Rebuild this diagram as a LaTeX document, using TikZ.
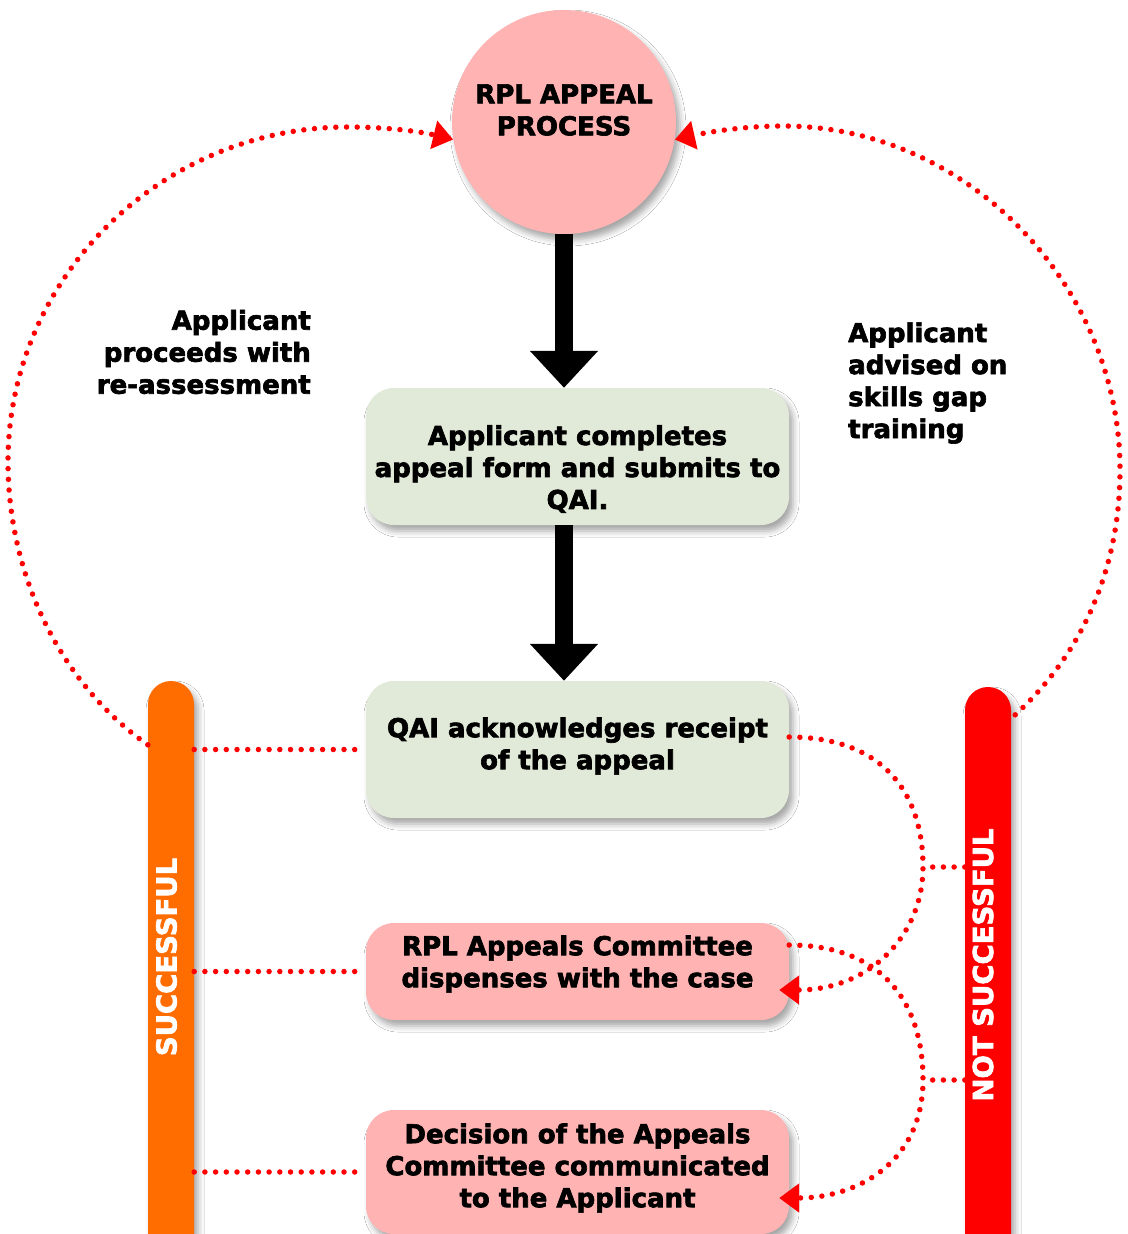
\documentclass[tikz,border=0pt]{standalone}
\usepackage{fontspec}
\setmainfont{DejaVu Sans}[BoldFeatures={FakeBold=2.5}]
\usetikzlibrary{arrows.meta,shadows.blur,calc}
\definecolor{pinkf}{HTML}{FFB3B3}
\definecolor{greenf}{HTML}{E1EAD8}
\definecolor{orangef}{HTML}{FF6C00}
\definecolor{redf}{HTML}{FF0000}
\tikzset{
  shd/.style={blur shadow={shadow xshift=4pt, shadow yshift=-6pt, shadow blur radius=6pt, shadow opacity=35}},
  circsty/.style={shd, circle, draw=none, fill=pinkf, minimum size=224pt, inner sep=0pt},
  boxg/.style={shd, draw=none, fill=greenf, rounded corners=28pt, minimum width=423pt, minimum height=137pt, inner sep=0pt},
  boxp/.style={shd, draw=none, fill=pinkf, rounded corners=28pt, minimum width=423pt, inner sep=0pt},
  barsty/.style={shd, draw=none, rounded corners=23pt, minimum width=46pt, minimum height=600pt, inner sep=0pt},
  txt/.style={font=\fontsize{26}{32}\selectfont\bfseries, align=center, inner sep=0pt},
  bartxt/.style={font=\fontsize{27.5}{32}\selectfont\bfseries, text=white, rotate=90, inner sep=0pt},
  dots/.style={draw=redf, line width=5.5pt, dash pattern=on 0pt off 10.7pt, line cap=round},
  dotarrow/.style={dots, -{Triangle[length=20pt,width=28pt]}},
  bigarrow/.style={draw=black, line width=18pt, -{Triangle[length=37pt,width=66pt]}},
}
\begin{document}
\begin{tikzpicture}[x=1pt,y=-1pt]
\useasboundingbox (0,0) rectangle (1127,1234);
\fill[white] (0,0) rectangle (1127,1234);

% main nodes
\node[circsty] (circ) at (564,122) {};
\node[txt] (ctext) at (564,110) {RPL APPEAL\\PROCESS};
\node[boxg] (box1) at (577.5,456.5) {};
\node[txt] (t1) at (577.5,469) {Applicant completes\\appeal form and submits to\\QAI.};
\node[boxg] (box2) at (577.5,749.5) {};
\node[txt] (t2) at (577.5,746) {QAI acknowledges receipt\\of the appeal};
\node[boxp, minimum height=97pt] (box3) at (577.5,971.5) {};
\node[txt] (t3) at (577.5,964) {RPL Appeals Committee\\dispenses with the case};
\node[boxp, minimum height=124pt] (box4) at (577.5,1172) {};
\node[txt] (t4) at (577.5,1168) {Decision of the Appeals\\Committee communicated\\to the Applicant};

% side bars
\node[barsty, fill=orangef] (sbar) at (171,981) {};
\node[bartxt] (stext) at (166.5,957) {SUCCESSFUL};
\node[barsty, fill=redf] (nbar) at (988,987) {};
\node[bartxt] (ntext) at (983,965) {NOT SUCCESSFUL};

% side labels
\node[txt, align=right, anchor=east] (lt) at (311,352) {Applicant\\proceeds with\\re-assessment};
\node[txt, align=left, anchor=west] (rt) at (848,383) {Applicant\\advised on\\skills gap\\training};

% black arrows
\draw[bigarrow] (circ.south) -- (circ.south |- box1.north);
\draw[bigarrow] (box1.south -| circ.south) -- (box2.north -| circ.south);

% left dotted connectors
\draw[dots, shorten >=9pt] (sbar.east |- box2.west) -- (box2.west);
\draw[dots, shorten >=9pt] (sbar.east |- box3.west) -- (box3.west);
\draw[dots, shorten >=9pt] (sbar.east |- box4.west) -- (box4.west);

% big loop arcs
\coordinate (la) at ($(sbar.north west)+(0,64)$);
\draw[dotarrow] (la) .. controls (58,682) and (8,572) .. (8,462)
  .. controls (8,278) and (161,127) .. (348,127)
  .. controls (384,127) and (418,131) .. (circ.189);
\coordinate (ra) at ($(nbar.north east)+(4,28)$);
\draw[dotarrow] (ra) .. controls (1085,651) and (1120,565) .. (1120,470)
  .. controls (1120,287) and (969,126) .. (783,126)
  .. controls (748,126) and (713,131) .. (circ.351);

% right S-curves
\coordinate (j1) at (923,867);
\coordinate (j2) at (923,1080);
\draw[dots] (nbar.west |- j1) -- (j1);
\draw[dots] (nbar.west |- j2) -- (j2);
\draw[dotarrow] ($(box2.east)+(0,-12.5)$) .. controls (880,737) and (923,790) .. (j1)
  .. controls (923,935) and (870,990) .. ($(box3.east)+(-10,18.5)$);
\draw[dotarrow] ($(box3.east)+(0,-26.5)$) .. controls (880,945) and (923,1000) .. (j2)
  .. controls (923,1160) and (860,1198) .. ($(box4.east)+(-10,26)$);
\end{tikzpicture}
\end{document}
